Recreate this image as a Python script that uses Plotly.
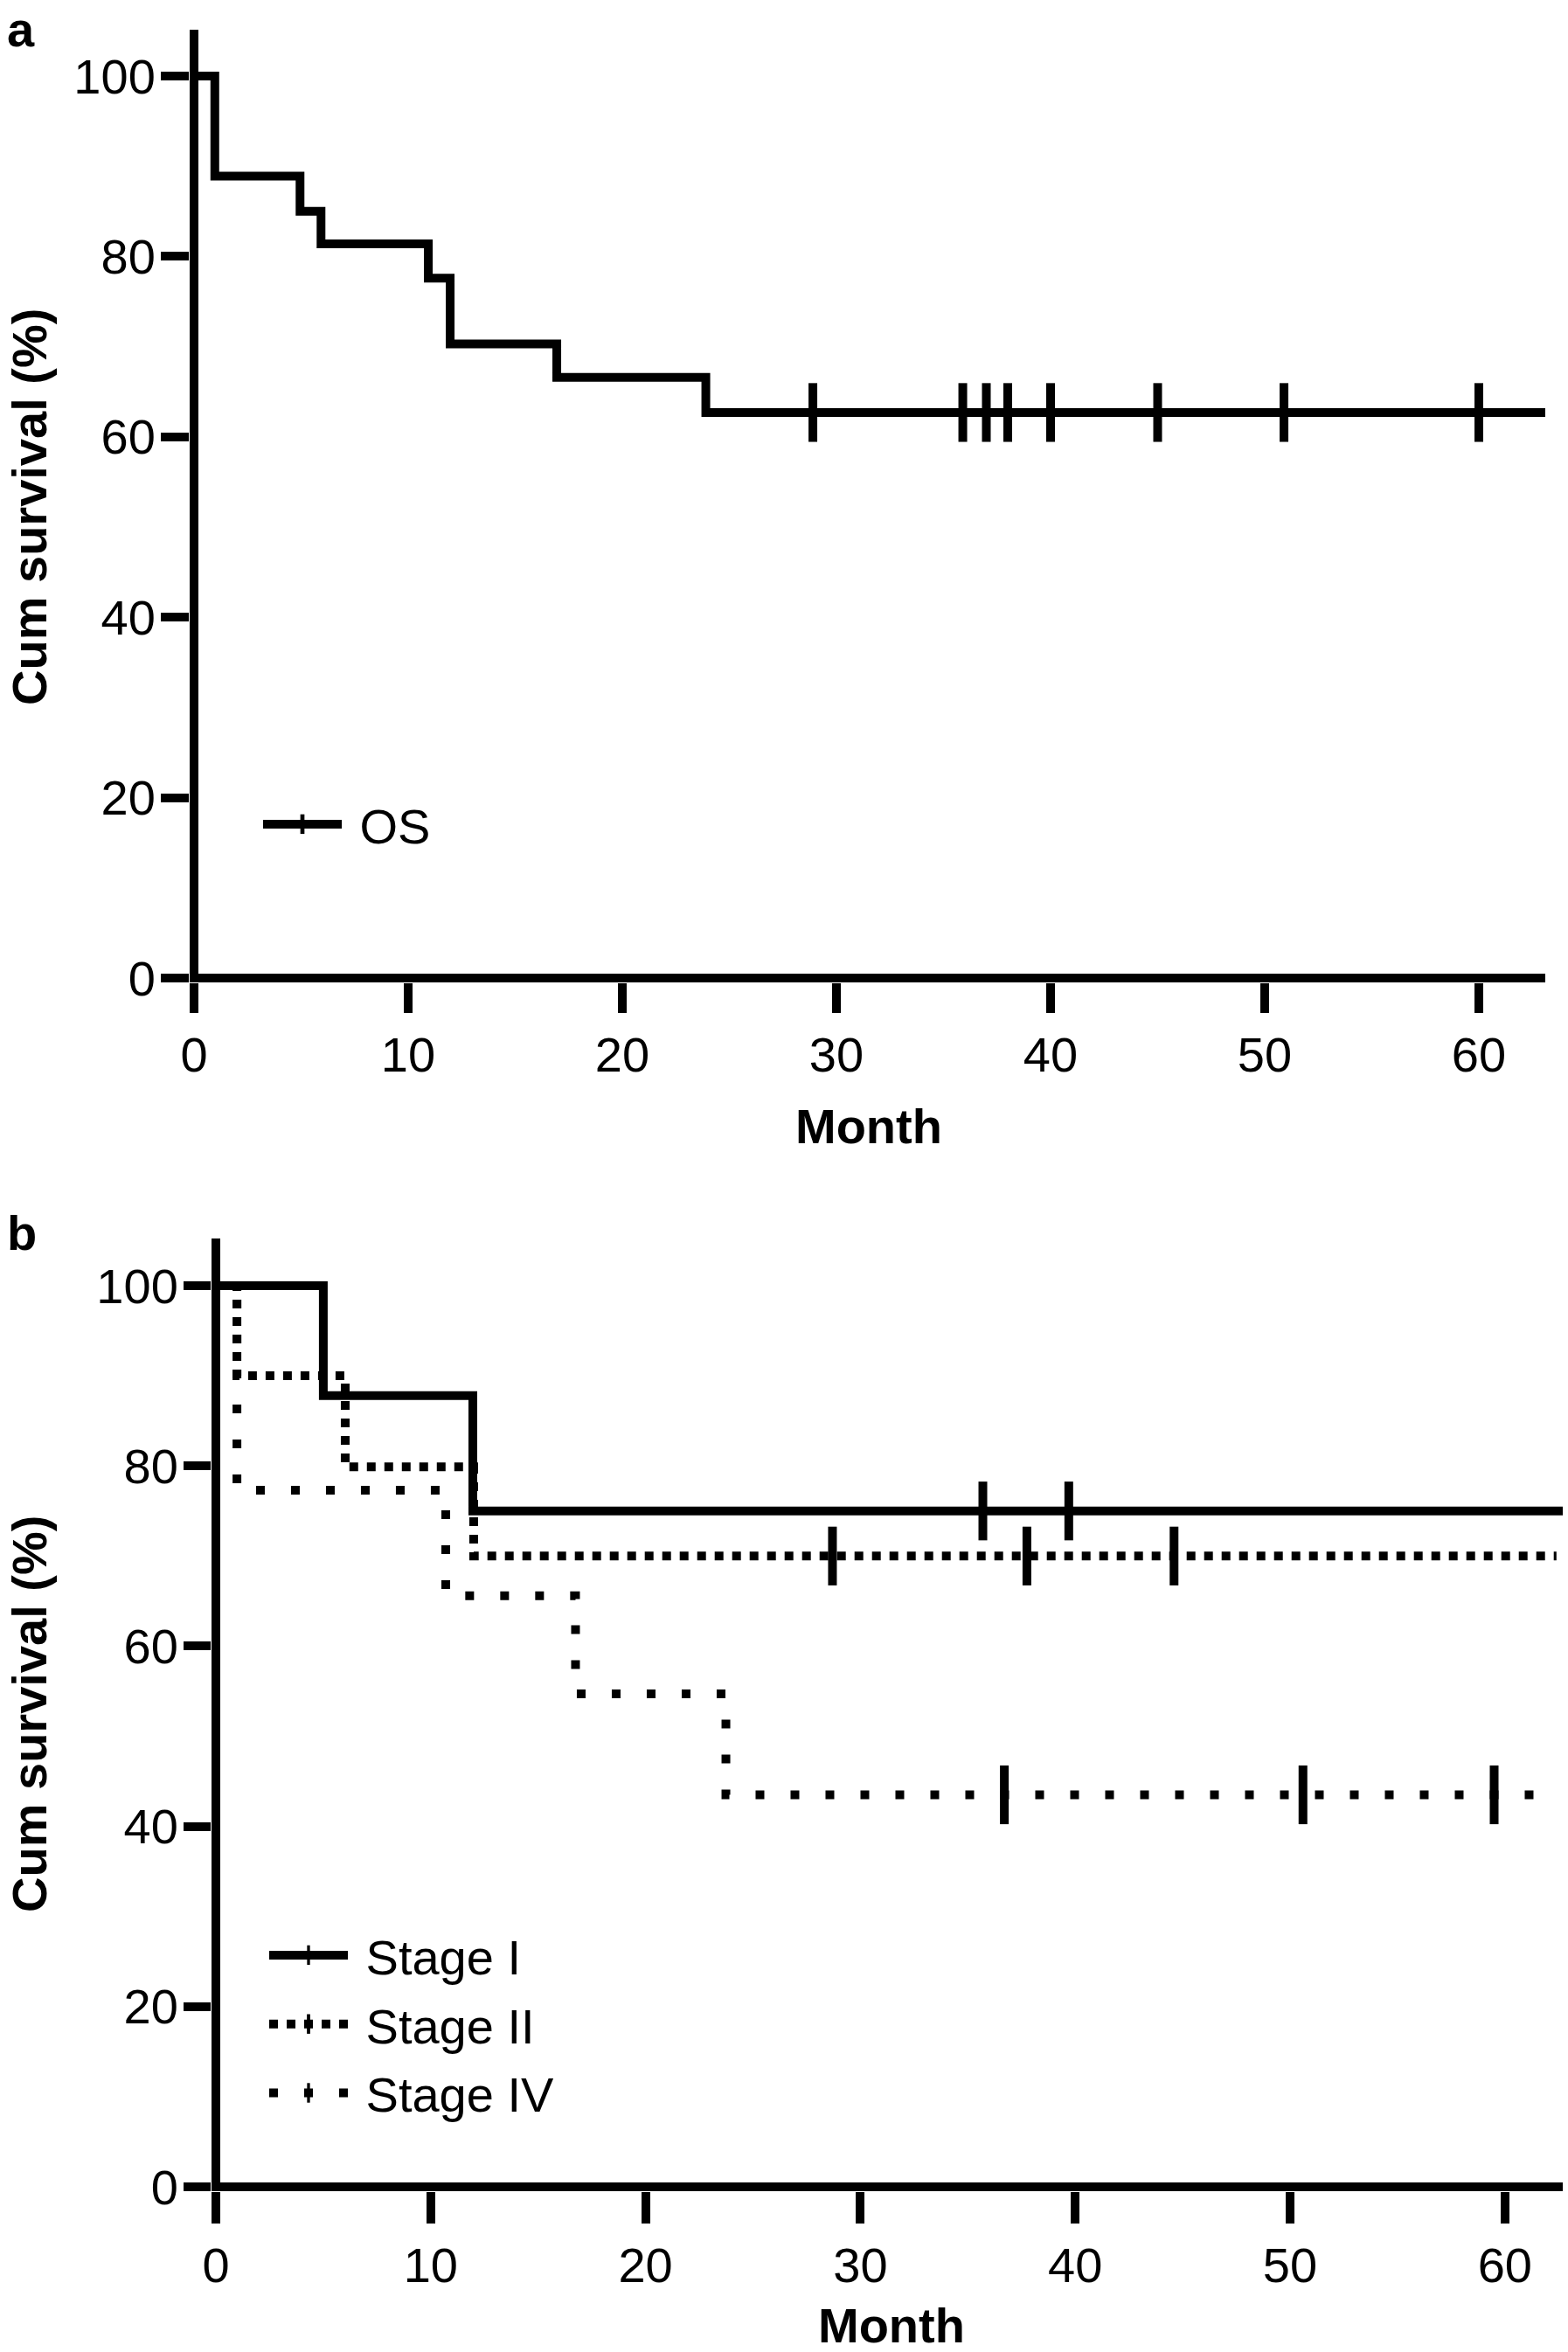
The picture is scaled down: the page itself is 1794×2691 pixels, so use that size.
import plotly.graph_objects as go

# ---------------- data ----------------
month_ticks = [0, 10, 20, 30, 40, 50, 60]
surv_ticks = [0, 20, 40, 60, 80, 100]

# Panel a: overall survival (OS)
os_event_months = [0.97, 4.95, 5.93, 10.94, 11.96, 16.94, 23.9]
os_survival = [88.9, 85.0, 81.4, 77.6, 70.3, 66.6, 62.7]
os_censor_months = [28.9, 35.9, 37.0, 38.0, 40.0, 45.0, 50.9, 60.0]
os_end_month = 63.1

# Panel b: by stage
stage_names = ["Stage I", "Stage II", "Stage IV"]
stage1_event_months = [5.0, 11.96]
stage1_survival = [87.8, 75.0]
stage1_censor_months = [35.7, 39.7]
stage1_end_month = 62.7

stage2_event_months = [0.98, 6.02, 12.0]
stage2_survival = [90.0, 79.9, 70.0]
stage2_censor_months = [28.7, 37.75, 44.6]
stage2_end_month = 62.4

stage4_event_months = [0.98, 10.7, 16.74, 23.74]
stage4_survival = [77.3, 65.6, 54.7, 43.5]
stage4_censor_months = [36.7, 50.6, 59.5]
stage4_end_month = 62.4

# ---------------- styling ----------------
W, H = 1794, 2691
FONT = "Liberation Sans, Arial, Helvetica, sans-serif"
FS = 56
LW = 10
TICK_MARK = 48


def px_x(px):
    return px / W


def px_y(py):
    return 1 - py / H


def km_arrays(event_months, survival, censor_months, end_month):
    pts = [(0.0, 100.0, False)]
    for t, s in zip(event_months, survival):
        pts.append((t, s, False))
    for c in censor_months:
        s = 100.0
        for t, v in zip(event_months, survival):
            if t <= c:
                s = v
        pts.append((c, s, True))
    pts.append((end_month, survival[-1], False))
    pts.sort(key=lambda p: p[0])
    xs = [p[0] for p in pts]
    ys = [p[1] for p in pts]
    sizes = [TICK_MARK if p[2] else 0 for p in pts]
    widths = [LW if p[2] else 0 for p in pts]
    return xs, ys, sizes, widths


def km_trace(name, event_months, survival, censor_months, end_month, dash,
             xaxis, yaxis, legend, group):
    xs, ys, sizes, widths = km_arrays(event_months, survival, censor_months, end_month)
    return go.Scatter(
        x=xs, y=ys, name=" " + name, mode="lines+markers",
        line=dict(shape="hv", color="black", width=LW, dash=dash),
        marker=dict(symbol="line-ns", size=sizes, color="black", opacity=1,
                    line=dict(color="black", width=widths)),
        xaxis=xaxis, yaxis=yaxis, legend=legend, legendgroup=group,
        hoverinfo="skip",
    )


fig = go.Figure()
fig.add_trace(km_trace("OS", os_event_months, os_survival, os_censor_months,
                       os_end_month, "solid", "x", "y", "legend", "os"))
fig.add_trace(km_trace(stage_names[0], stage1_event_months, stage1_survival,
                       stage1_censor_months, stage1_end_month, "solid",
                       "x2", "y2", "legend2", "s1"))
fig.add_trace(km_trace(stage_names[1], stage2_event_months, stage2_survival,
                       stage2_censor_months, stage2_end_month, "10px,10px",
                       "x2", "y2", "legend2", "s2"))
fig.add_trace(km_trace(stage_names[2], stage4_event_months, stage4_survival,
                       stage4_censor_months, stage4_end_month, "10px,30px",
                       "x2", "y2", "legend2", "s4"))

tickfont = dict(family=FONT, size=FS, color="black")
axis_common = dict(showgrid=False, showline=False, zeroline=True,
                   zerolinecolor="black", zerolinewidth=LW,
                   ticks="outside", tickwidth=LW, tickcolor="black",
                   tickfont=tickfont, fixedrange=True, automargin=False)

# panel a geometry (pixels)
a_x0, a_ppm = 222, 24.5
a_y0, a_ppu = 1119, 10.32
a_right, a_top = 1768, 34
# panel b geometry (pixels)
b_x0, b_ppm = 247, 24.58
b_y0, b_ppu = 2502, 10.31
b_right, b_top = 1788, 1416.5

fig.update_layout(
    template="none",
    width=W, height=H, autosize=False,
    margin=dict(l=0, r=0, t=0, b=0, pad=0, autoexpand=False),
    paper_bgcolor="white", plot_bgcolor="white",
    font=dict(family=FONT, size=FS, color="black"),
    xaxis=dict(axis_common, anchor="y",
               domain=[px_x(a_x0 - 5), px_x(a_right)],
               range=[-5 / a_ppm, (a_right - a_x0) / a_ppm],
               tickvals=month_ticks, ticklen=34),
    yaxis=dict(axis_common, anchor="x",
               domain=[px_y(a_y0 + 5), px_y(a_top)],
               range=[-5 / a_ppu, (a_y0 - a_top) / a_ppu],
               tickvals=surv_ticks, ticklen=32, ticklabelstandoff=-5),
    xaxis2=dict(axis_common, anchor="y2",
                domain=[px_x(b_x0 - 5), px_x(b_right)],
                range=[-5 / b_ppm, (b_right - b_x0) / b_ppm],
                tickvals=month_ticks, ticklen=36),
    yaxis2=dict(axis_common, anchor="x2",
                domain=[px_y(b_y0 + 5), px_y(b_top)],
                range=[-5 / b_ppu, (b_y0 - b_top) / b_ppu],
                tickvals=surv_ticks, ticklen=31, ticklabelstandoff=-5),
    legend=dict(x=px_x(296), y=px_y(900), xanchor="left", yanchor="top",
                font=dict(family=FONT, size=FS, color="black"),
                itemwidth=90, bgcolor="rgba(0,0,0,0)", borderwidth=0),
    legend2=dict(x=px_x(303), y=px_y(2194), xanchor="left", yanchor="top",
                 font=dict(family=FONT, size=FS, color="black"),
                 itemwidth=90, bgcolor="rgba(0,0,0,0)", borderwidth=0,
                 traceorder="grouped", tracegroupgap=3),
    showlegend=True,
)

bold = dict(family=FONT, size=FS, color="black")
annotations = [
    dict(text="<b>a</b>", x=px_x(6), y=px_y(0), xanchor="left", yanchor="top"),
    dict(text="<b>b</b>", x=px_x(6), y=px_y(1377), xanchor="left", yanchor="top"),
    dict(text="<b>Cum survival (%)</b>", x=px_x(33), y=px_y(580),
         xanchor="center", yanchor="middle", textangle=-90),
    dict(text="<b>Cum survival (%)</b>", x=px_x(33), y=px_y(1961),
         xanchor="center", yanchor="middle", textangle=-90),
    dict(text="<b>Month</b>", x=px_x(994), y=px_y(1288),
         xanchor="center", yanchor="middle"),
    dict(text="<b>Month</b>", x=px_x(1020), y=px_y(2660),
         xanchor="center", yanchor="middle"),
]
for a in annotations:
    a.update(xref="paper", yref="paper", showarrow=False, font=bold)
fig.update_layout(annotations=annotations)

fig.write_html(
    "out.html",
    config={"displayModeBar": False},
    post_script="document.body.style.margin='0px';document.body.style.padding='0px';",
)
